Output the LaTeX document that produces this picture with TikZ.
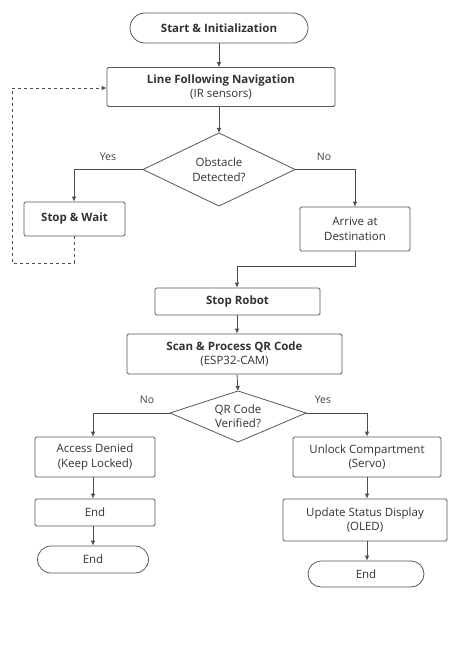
\documentclass[tikz,border=0pt]{standalone}
\usepackage{fontspec}
\setmainfont{Open Sans}
\usetikzlibrary{shapes.geometric,arrows.meta}
\begin{document}
\begin{tikzpicture}[x=1pt,y=-1pt,
  base/.style={draw=black!65, line width=0.8pt, align=center, inner sep=0pt, font=\fontsize{11.5}{14.5}\selectfont, text=black!80},
  proc/.style={base, rectangle, rounded corners=1.5pt},
  conn/.style={draw=black!70, line width=0.8pt, -{Latex[length=5pt,width=4.5pt]}},
  lbl/.style={font=\fontsize{10.5}{12}\selectfont, text=black!75}
]
\useasboundingbox (0,0) rectangle (468,655);
\fill[white] (0,0) rectangle (468,655);
% nodes
\node[proc, rounded corners=15pt, minimum width=178pt, minimum height=30pt] (start) at (219,28) {\textbf{Start \& Initialization}};
\node[proc, minimum width=228pt, minimum height=39pt] (line) at (221,87) {\textbf{Line Following Navigation}\\(IR sensors)};
\node[base, draw=none] (obst) at (219,169.5) {Obstacle\\Detected?};
\draw[black!65, line width=0.8pt] (219,133) coordinate (oT) -- (295,169.5) coordinate (oR) -- (219,206) coordinate (oB) -- (143,169.5) coordinate (oL) -- cycle;
\node[proc, minimum width=101pt, minimum height=34pt] (wait) at (74.5,219) {\textbf{Stop \& Wait}};
\node[proc, minimum width=110pt, minimum height=44pt] (arrive) at (355,229) {Arrive at\\Destination};
\node[proc, minimum width=165pt, minimum height=27pt] (stop) at (237.5,301.5) {\textbf{Stop Robot}};
\node[proc, minimum width=215pt, minimum height=40pt] (scan) at (234.5,354) {\textbf{Scan \& Process QR Code}\\(ESP32-CAM)};
\node[base, draw=none] (qr) at (238,416) {QR Code\\Verified?};
\draw[black!65, line width=0.8pt] (238,391) coordinate (qT) -- (306,413) coordinate (qR) -- (238,442) coordinate (qB) -- (170,413) coordinate (qL) -- cycle;
\node[proc, minimum width=120pt, minimum height=40pt] (deny) at (95,457) {Access Denied\\(Keep Locked)};
\node[proc, minimum width=120pt, minimum height=27pt] (end1) at (95,512.5) {End};
\node[proc, rounded corners=13.5pt, minimum width=111pt, minimum height=27pt] (end2) at (93,559.5) {End};
\node[proc, minimum width=148pt, minimum height=40pt] (unlock) at (367,457) {Unlock Compartment\\(Servo)};
\node[proc, minimum width=164pt, minimum height=42pt] (update) at (365,520) {Update Status Display\\(OLED)};
\node[proc, rounded corners=13pt, minimum width=116pt, minimum height=26pt] (end3) at (366,574) {End};
% connectors
\draw[conn] (start.south -| 219,0) -- (line.north -| 219,0);
\draw[conn] (line.south -| 219,0) -- (oT);
\draw[conn] (oL) -| (wait.north -| 74,0);
\draw[conn] (oR) -| (arrive.north);
\node[lbl] at (108,157) {Yes};
\node[lbl] at (324,157) {No};
\draw[draw=black!70, line width=0.8pt, dashed, -{Latex[length=5pt,width=4.5pt]}] (wait.south -| 74,0) -- (74,263) -- (12,263) -- (12,88) -- (line.west |- 0,88);
\draw[conn] (arrive.south) -- (355,266) -| (stop.north -| 237,0);
\draw[conn] (stop.south -| 237,0) -- (scan.north -| 237,0);
\draw[conn] (scan.south -| 237,0) -- (qT);
\draw[conn] (qL) -| (deny.north -| 93,0);
\draw[conn] (qR) -| (unlock.north);
\node[lbl] at (147,400) {No};
\node[lbl] at (323,400) {Yes};
\draw[conn] (deny.south -| 93,0) -- (end1.north -| 93,0);
\draw[conn] (end1.south -| 93,0) -- (end2.north);
\draw[conn] (unlock.south) -- (update.north -| 367,0);
\draw[conn] (update.south -| 367,0) -- (end3.north -| 367,0);
\end{tikzpicture}
\end{document}
